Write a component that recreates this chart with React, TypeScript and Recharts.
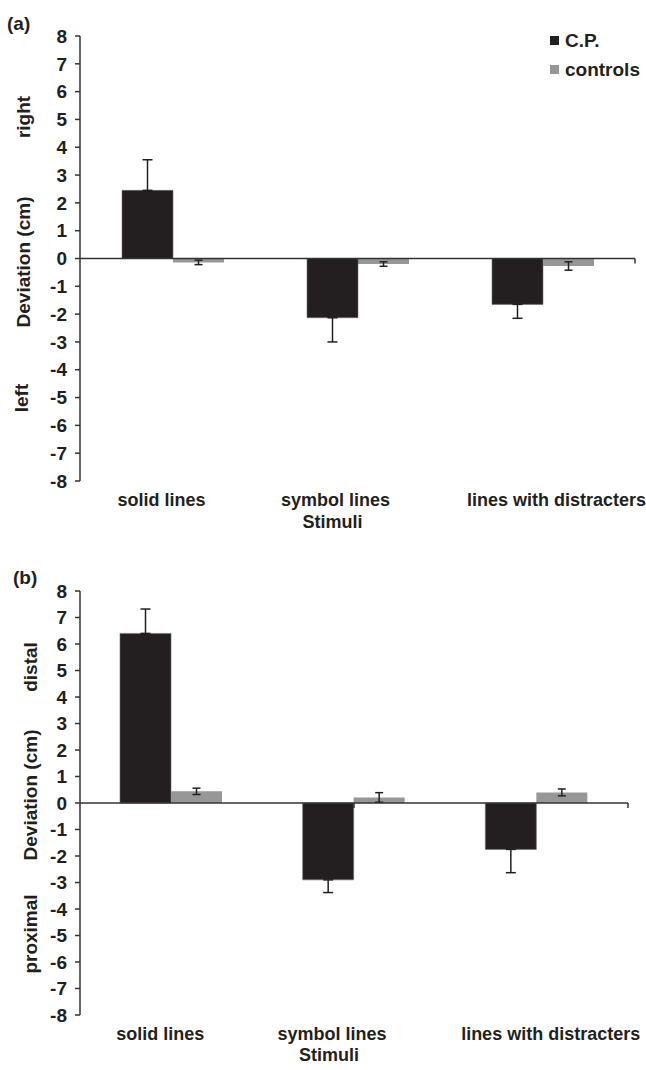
import React from 'react';
import { BarChart, Bar, XAxis, YAxis, ReferenceLine, ErrorBar, Legend } from 'recharts';

const categories = ['solid lines', 'symbol lines', 'lines with distracters'];
const yTicks = [-8, -7, -6, -5, -4, -3, -2, -1, 0, 1, 2, 3, 4, 5, 6, 7, 8];
const boundaries = [1, 2, 3];

const cpA = [2.45, -2.13, -1.65];
const cpErrA = [1.1, 0.87, 0.5];
const ctrlA = [-0.14, -0.2, -0.27];
const ctrlErrA = [0.08, 0.08, 0.15];

const cpB = [6.4, -2.9, -1.75];
const cpErrB = [0.92, 0.48, 0.88];
const ctrlB = [0.44, 0.21, 0.4];
const ctrlErrB = [0.12, 0.18, 0.13];

const FONT = '"Liberation Sans", Arial, sans-serif';
const FS = 18;
const FS_Y = 19;
const INK = '#231f20';
const AXIS = '#333333';
const CP_COLOR = '#231f20';
const CTRL_COLOR = '#97979a';
const LABEL_SHIFT = [-11, -22, 14];

function buildData(cp: number[], cpErr: number[], ctrl: number[], ctrlErr: number[]) {
  return categories.map((name, i) => ({
    name,
    cp: cp[i],
    cpErr: cp[i] >= 0 ? [0, cpErr[i]] : [cpErr[i], 0],
    ctrl: ctrl[i],
    ctrlErr: ctrlErr[i],
  }));
}

const dataA = buildData(cpA, cpErrA, ctrlA, ctrlErrA);
const dataB = buildData(cpB, cpErrB, ctrlB, ctrlErrB);

const CatTick = (props: any) => {
  const { x, y, payload, index } = props;
  return (
    <text
      x={x + (LABEL_SHIFT[index] || 0)}
      y={y}
      dy={25}
      textAnchor="middle"
      fontFamily={FONT}
      fontWeight="bold"
      fontSize={FS}
      fill={INK}
    >
      {payload.value}
    </text>
  );
};

const LegendContent = (props: any) => {
  const items = props.payload || [];
  return (
    <div style={{ fontFamily: FONT, fontWeight: 'bold', fontSize: FS_Y, color: INK }}>
      {items.map((it: any) => (
        <div key={it.value} style={{ display: 'flex', alignItems: 'center', height: 29 }}>
          <span style={{ display: 'inline-block', width: 9, height: 9, background: it.color, marginRight: 6 }} />
          <span>{it.value}</span>
        </div>
      ))}
    </div>
  );
};

type PanelProps = {
  data: any[];
  height: number;
  margin: { top: number; right: number; bottom: number; left: number };
  xHeight: number;
  showLegend?: boolean;
  tickLen: number;
  stimOffset: number;
};

const Panel = ({ data, height, margin, xHeight, showLegend, tickLen, stimOffset }: PanelProps) => (
  <BarChart width={646} height={height} data={data} margin={margin} barGap={0} barSize={51}>
    <XAxis
      dataKey="name"
      axisLine={false}
      tickLine={false}
      tickSize={0}
      tickMargin={0}
      interval={0}
      height={xHeight}
      tick={<CatTick />}
      label={{
        value: 'Stimuli',
        position: 'insideBottom',
        offset: stimOffset,
        dx: -25,
        style: { fontFamily: FONT, fontWeight: 'bold', fontSize: FS, fill: INK },
      }}
    />
    <XAxis xAxisId="n" type="number" domain={[0, 3]} allowDataOverflow hide />
    <YAxis
      type="number"
      domain={[-8, 8]}
      ticks={yTicks}
      interval={0}
      width={80}
      allowDataOverflow
      tickSize={5}
      tickMargin={8}
      axisLine={{ stroke: AXIS, strokeWidth: 1.5 }}
      tickLine={{ stroke: AXIS, strokeWidth: 1.5 }}
      tick={{ fontFamily: FONT, fontWeight: 'bold', fontSize: FS_Y, fill: INK }}
    />
    {showLegend && (
      <Legend
        layout="vertical"
        align="center"
        verticalAlign="middle"
        content={<LegendContent />}
        wrapperStyle={{ top: 26, left: 550, width: 96 }}
      />
    )}
    <Bar dataKey="cp" name="C.P." fill={CP_COLOR} stroke="#6d6d6d" strokeWidth={0.6} isAnimationActive={false}>
      <ErrorBar dataKey="cpErr" width={5} stroke={INK} strokeWidth={1.5} />
    </Bar>
    <Bar dataKey="ctrl" name="controls" fill={CTRL_COLOR} isAnimationActive={false}>
      <ErrorBar dataKey="ctrlErr" width={4} stroke={INK} strokeWidth={1.5} />
    </Bar>
    <ReferenceLine y={0} stroke={AXIS} strokeWidth={1.5} />
    {boundaries.map((b) => (
      <ReferenceLine
        key={b}
        xAxisId="n"
        segment={[{ x: b, y: 0 }, { x: b, y: -tickLen }]}
        stroke={AXIS}
        strokeWidth={1.5}
      />
    ))}
  </BarChart>
);

const SideText = ({ x, y, text }: { x: number; y: number; text: string }) => (
  <text
    x={x}
    y={y}
    transform={`rotate(-90 ${x} ${y})`}
    textAnchor="middle"
    dominantBaseline="central"
    fontFamily={FONT}
    fontWeight="bold"
    fontSize={FS_Y}
    fill={INK}
  >
    {text}
  </text>
);

export default function App() {
  return (
    <div style={{ position: 'absolute', left: 0, top: 0, width: 646, height: 1070, background: '#fff' }}>
      <div style={{ position: 'absolute', left: 0, top: 0 }}>
        <Panel data={dataA} height={540} margin={{ top: 36, right: 11, bottom: 0, left: 0 }} xHeight={59} showLegend tickLen={0.18} stimOffset={12} />
      </div>
      <div style={{ position: 'absolute', left: 0, top: 550 }}>
        <Panel data={dataB} height={520} margin={{ top: 41, right: 18, bottom: 0, left: 0 }} xHeight={55} tickLen={0.19} stimOffset={9} />
      </div>
      <svg width={646} height={1070} style={{ position: 'absolute', left: 0, top: 0, pointerEvents: 'none' }}>
        <text x={7} y={30} fontFamily={FONT} fontWeight="bold" fontSize={FS_Y} fill={INK}>(a)</text>
        <text x={13} y={584} fontFamily={FONT} fontWeight="bold" fontSize={FS_Y} fill={INK}>(b)</text>
        <SideText x={23} y={117} text="right" />
        <SideText x={23} y={262} text="Deviation (cm)" />
        <SideText x={21} y={398} text="left" />
        <SideText x={30} y={667} text="distal" />
        <SideText x={30} y={795} text="Deviation (cm)" />
        <SideText x={30} y={934} text="proximal" />
      </svg>
    </div>
  );
}
